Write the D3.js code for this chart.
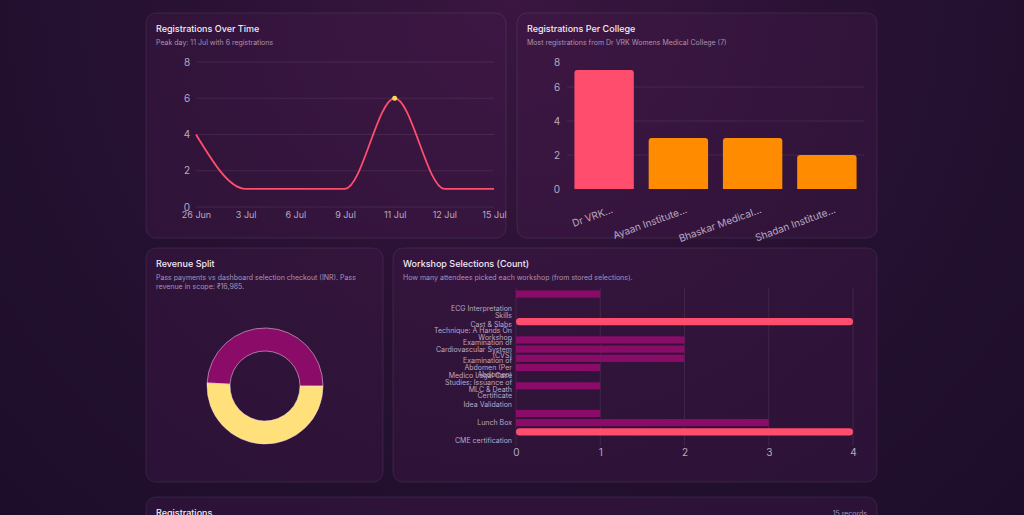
<!DOCTYPE html>
<html><head><meta charset="utf-8">
<script src="https://cdn.jsdelivr.net/npm/d3@7"></script>
<style>
body{margin:0;background:radial-gradient(ellipse at 50% 0%,#3a1640 0%,#241030 60%,#1d0d2a 100%);width:1024px;height:515px;overflow:hidden;font-family:Inter,"Noto Sans",sans-serif}
svg{display:block}
</style></head><body>
<script>
// data
var days = ["26 Jun","3 Jul","6 Jul","9 Jul","11 Jul","12 Jul","15 Jul"];
var dayCounts = [4,1,1,1,6,1,1];
var colleges = ["Dr VRK...","Ayaan Institute...","Bhaskar Medical...","Shadan Institute..."];
var collegeCounts = [7,3,3,2];
var revenueParts = ["Dashboard selections","Pass payments"];
var revenueValues = [16450,16985];
var workshopLabels = ["","","ECG Interpretation|Skills","","Cast & Slabs|Technique: A Hands On|Workshop","","Examination of|Cardiovascular System|(CVS)","","Examination of|Abdomen (Per|Abdomen)","","Medico Legal Case|Studies: Issuance of|MLC & Death|Certificate","","Idea Validation","","Lunch Box","","CME certification"];
var workshopCounts = [1,0,0,4,0,2,2,2,1,0,1,0,0,1,3,4,0];

var svg = d3.select("body").append("svg").attr("width",1024).attr("height",515);
var grid = "rgba(255,255,255,0.08)", tick = "#b9a9c2";

function card(x,y,w,h,title,sub){
  var g = svg.append("g");
  g.append("rect").attr("x",x).attr("y",y).attr("width",w).attr("height",h).attr("rx",10)
    .attr("fill","rgba(70,25,75,0.35)").attr("stroke","rgba(255,255,255,0.08)");
  g.append("text").attr("x",x+10).attr("y",y+19).attr("fill","#f2eaf5").attr("font-size",9).attr("font-weight",500).text(title);
  (sub||[]).forEach(function(s,i){
    g.append("text").attr("x",x+10).attr("y",y+32+i*9).attr("fill","#a993b3").attr("font-size",7).text(s);
  });
}
card(146,13,360,225,"Registrations Over Time",["Peak day: 11 Jul with 6 registrations"]);
card(517,13,360,225,"Registrations Per College",["Most registrations from Dr VRK Womens Medical College (7)"]);
card(146,248,237,234,"Revenue Split",["Pass payments vs dashboard selection checkout (INR). Pass","revenue in scope: ₹16,985."]);
card(393,248,484,234,"Workshop Selections (Count)",["How many attendees picked each workshop (from stored selections)."]);
card(146,497,731,60,"Registrations",[]);
svg.append("text").attr("x",867).attr("y",516).attr("text-anchor","end").attr("fill","#a993b3").attr("font-size",7).text("15 records");

function styleAxis(g){ g.select(".domain").remove(); g.selectAll("line").remove(); g.selectAll("text").attr("fill",tick).attr("font-family","Inter,sans-serif"); }

// line chart
var x1 = d3.scalePoint().domain(days).range([196,494]);
var y1 = d3.scaleLinear().domain([0,8]).range([207,62]);
svg.append("g").selectAll("line").data(y1.ticks(4)).join("line")
  .attr("x1",196).attr("x2",494).attr("y1",y1).attr("y2",y1).attr("stroke",grid);
svg.append("g").attr("transform","translate(192,0)").call(d3.axisLeft(y1).ticks(4).tickSize(0))
  .call(styleAxis).selectAll("text").attr("font-size",10).attr("text-anchor","middle").attr("dx",-2);
svg.append("g").attr("transform","translate(0,210)").call(d3.axisBottom(x1).tickSize(0))
  .call(styleAxis).selectAll("text").attr("font-size",9).attr("dy","0.6em");
svg.append("path").datum(dayCounts).attr("fill","none").attr("stroke","#ff4d6d").attr("stroke-width",1.8)
  .attr("d",d3.line().x(function(d,i){return x1(days[i]);}).y(y1).curve(d3.curveMonotoneX));
var peak = dayCounts.indexOf(d3.max(dayCounts));
svg.append("circle").attr("cx",x1(days[peak])).attr("cy",y1(dayCounts[peak])).attr("r",2.5).attr("fill","#ffd84d");

// college bars
var x2 = d3.scaleBand().domain(colleges).range([567,864]).paddingInner(0.2).paddingOuter(0.1);
var y2 = d3.scaleLinear().domain([0,8]).range([189,53]);
svg.append("g").selectAll("line").data([2,4,6]).join("line")
  .attr("x1",567).attr("x2",864).attr("y1",y2).attr("y2",y2).attr("stroke",grid);
svg.append("g").attr("transform","translate(562,0)").call(d3.axisLeft(y2).ticks(4).tickSize(0))
  .call(styleAxis).selectAll("text").attr("font-size",10).attr("text-anchor","middle").attr("dx",-2)
  .attr("dy",function(d){return d===8?"1.2em":"0.32em";});
svg.append("g").selectAll("path").data(collegeCounts).join("path")
  .attr("fill",function(d,i){return i===0?"#ff4d6d":"#ff8c00";})
  .attr("d",function(d,i){
    var x=x2(colleges[i]), w=x2.bandwidth(), t=y2(d), b=y2(0), r=3;
    return "M"+x+","+b+"V"+(t+r)+"Q"+x+","+t+" "+(x+r)+","+t+"H"+(x+w-r)+"Q"+(x+w)+","+t+" "+(x+w)+","+(t+r)+"V"+b+"Z";
  });
svg.append("g").attr("transform","translate(0,193)").call(d3.axisBottom(x2).tickSize(0))
  .call(styleAxis).selectAll("text").attr("font-size",10).attr("text-anchor","end")
  .attr("transform","translate(6,10) rotate(-20)");

// donut
var pie = d3.pie().sort(null).startAngle(-87*Math.PI/180).endAngle(273*Math.PI/180);
var arc = d3.arc().innerRadius(35).outerRadius(58);
svg.append("g").attr("transform","translate(265,386)").selectAll("path").data(pie(revenueValues)).join("path")
  .attr("d",arc).attr("fill",function(d,i){return ["#8a0c68","#ffe07a"][i];})
  .attr("stroke","#f0e0f0").attr("stroke-width",0.5);

// workshop horizontal bars
var idx = d3.range(workshopCounts.length);
var y4 = d3.scaleBand().domain(idx).range([289.5,445.5]).paddingInner(0.22).paddingOuter(0.1);
var x4 = d3.scaleLinear().domain([0,4]).range([516,853]);
svg.append("g").selectAll("line").data(x4.ticks(4)).join("line")
  .attr("x1",x4).attr("x2",x4).attr("y1",288).attr("y2",446).attr("stroke",grid);
svg.append("g").attr("transform","translate(0,447)").call(d3.axisBottom(x4).ticks(4).tickSize(0))
  .call(styleAxis).selectAll("text").attr("font-size",10).attr("dy","0.6em");
var maxW = d3.max(workshopCounts);
svg.append("g").selectAll("rect").data(workshopCounts).join("rect")
  .attr("x",x4(0)).attr("y",function(d,i){return y4(i);})
  .attr("width",function(d){return x4(d)-x4(0);}).attr("height",y4.bandwidth())
  .attr("rx",function(d){return d===maxW?3.5:0;})
  .attr("fill",function(d){return d===maxW?"#ff4d6d":"#8a0c68";});
var lab = svg.append("g").attr("font-size",7).attr("fill",tick).attr("text-anchor","end");
workshopLabels.forEach(function(l,i){
  if(!l) return;
  var lines = l.split("|"), cy = y4(i)+y4.bandwidth()/2;
  lines.forEach(function(s,j){
    lab.append("text").attr("x",512).attr("y",cy+(j-(lines.length-1)/2)*6.7).attr("dy","0.35em").text(s);
  });
});
</script>
</body></html>
